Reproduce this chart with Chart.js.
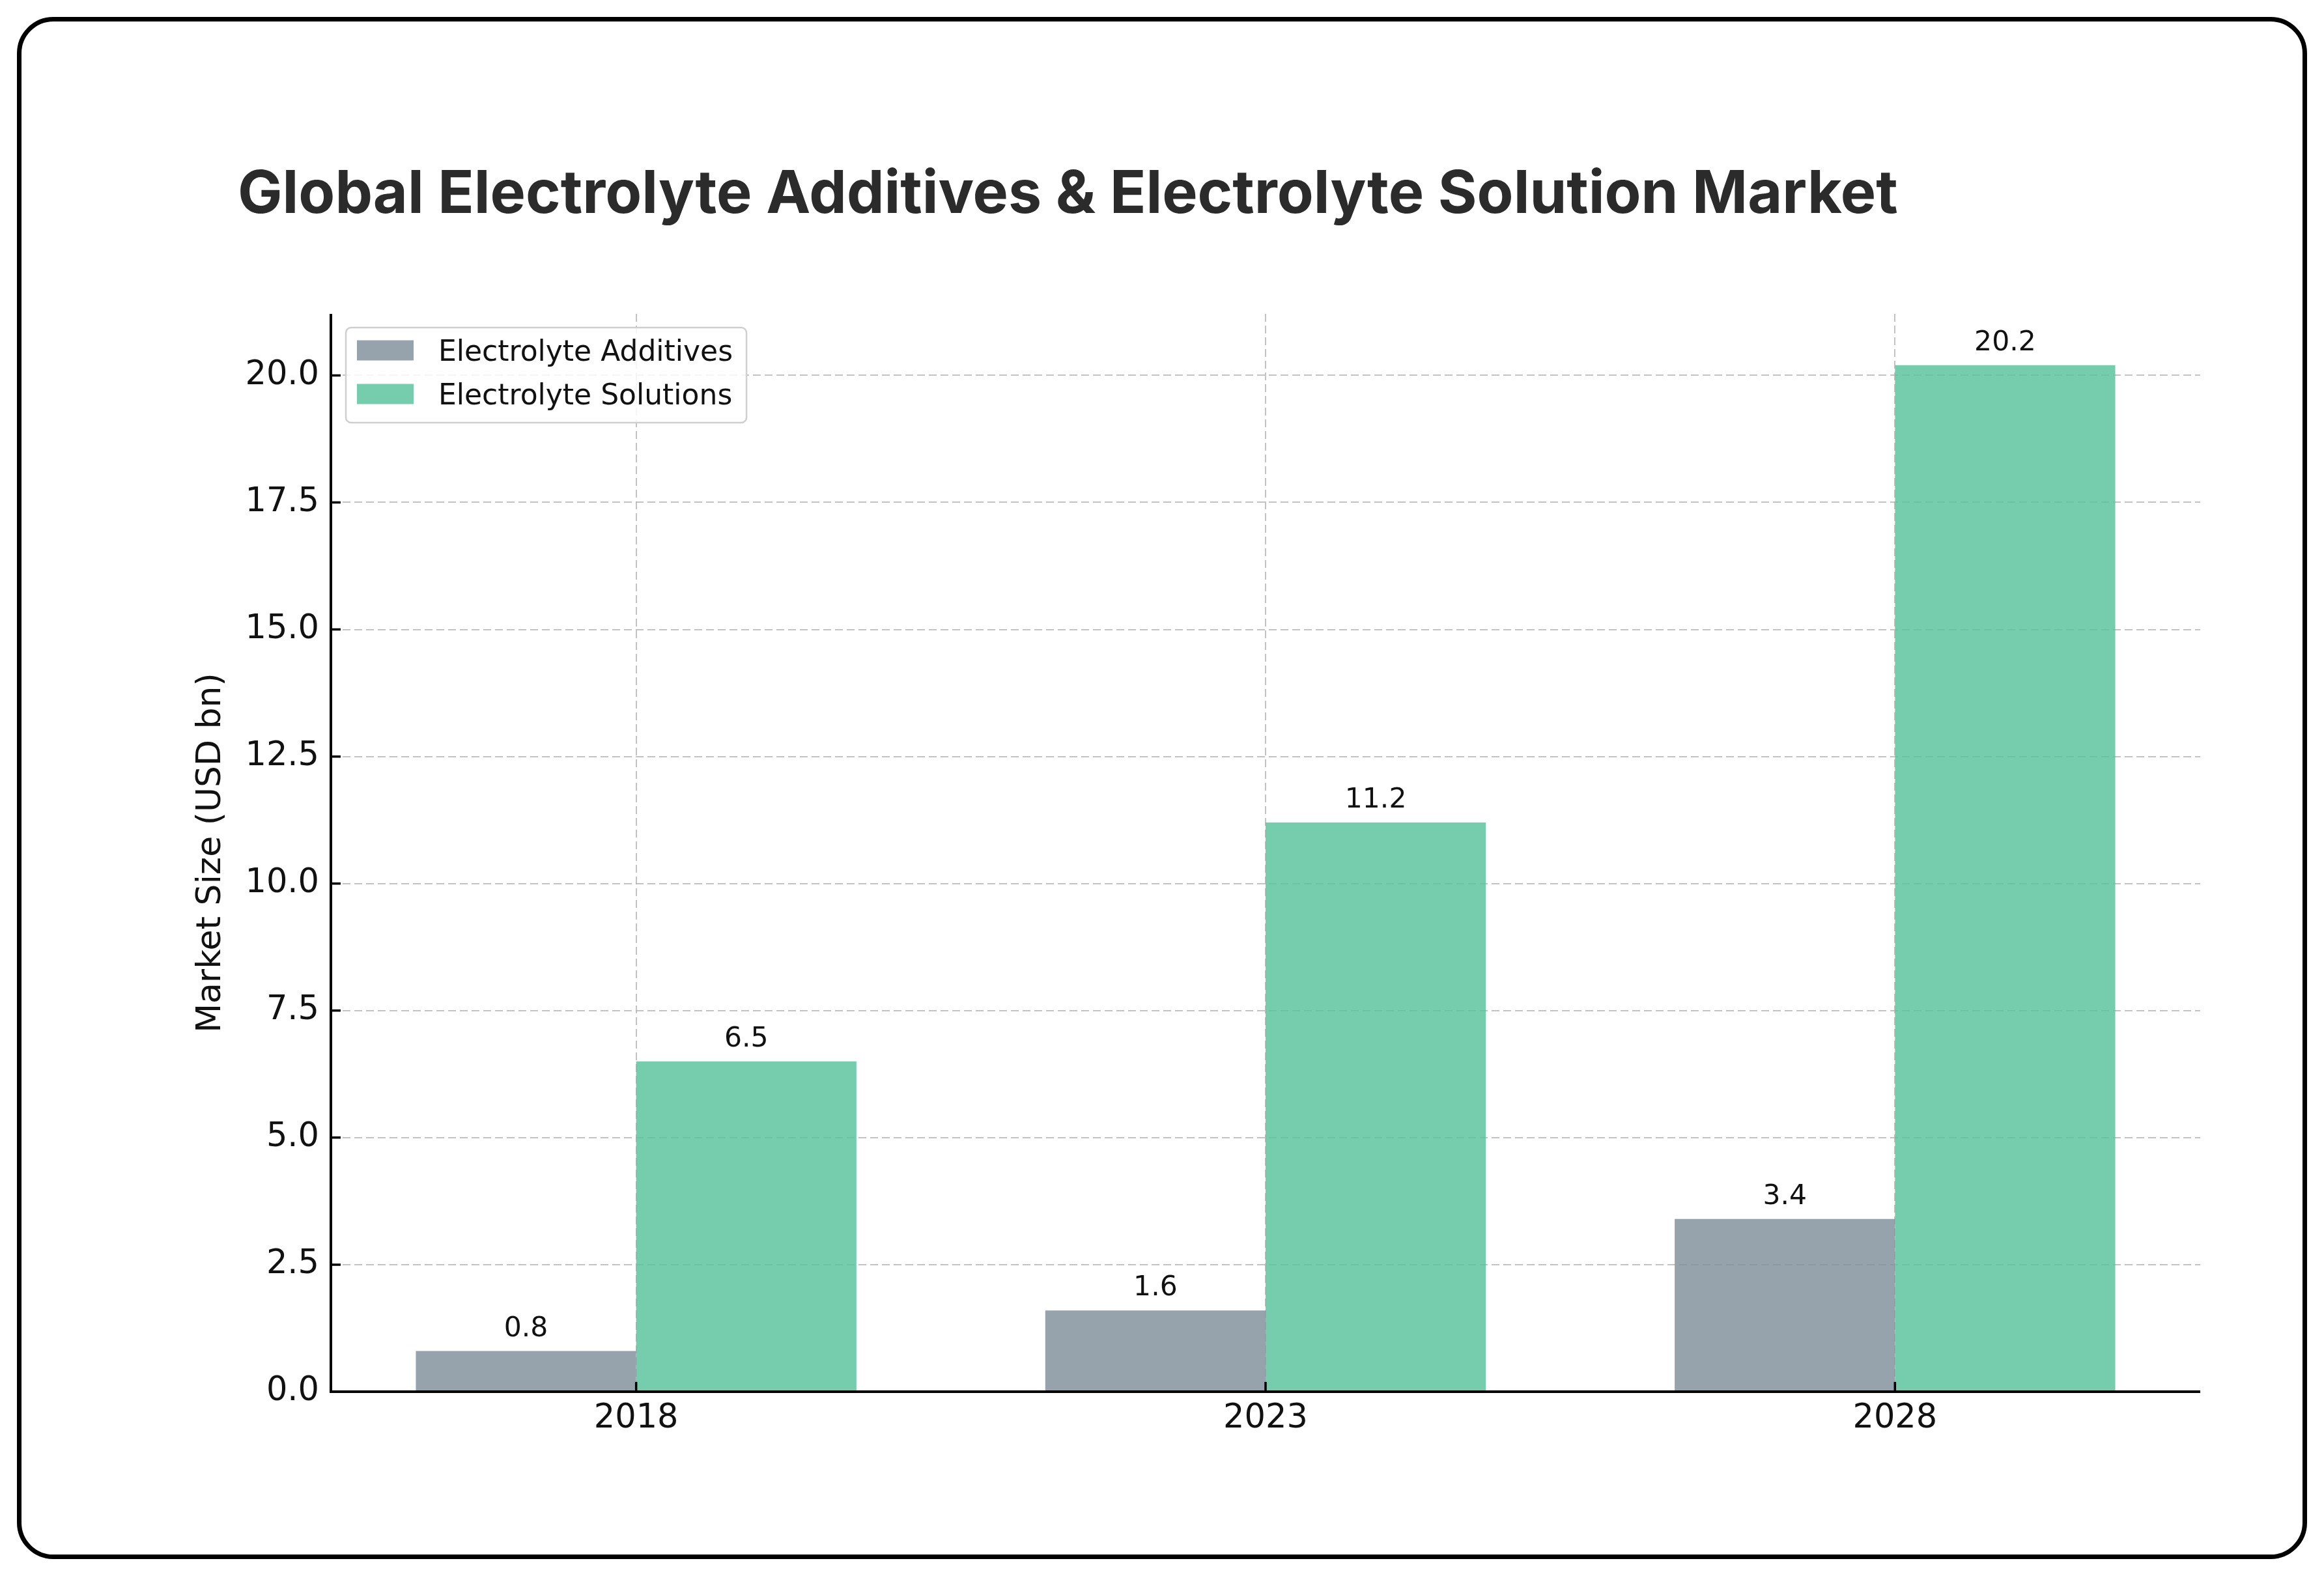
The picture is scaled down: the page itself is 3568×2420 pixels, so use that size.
<!DOCTYPE html>
<html>
<head>
<meta charset="utf-8">
<title>Global Electrolyte Additives & Electrolyte Solution Market</title>
<script src="https://cdn.jsdelivr.net/npm/chart.js@4.4.1/dist/chart.umd.min.js"></script>
<style>
  html, body { margin: 0; padding: 0; background: #fff; }
  body { width: 3568px; height: 2420px; position: relative; overflow: hidden; }
  #frame { position: absolute; left: 26px; top: 26px; right: 26px; bottom: 26px; border: 7px solid #000; border-radius: 56px; }
  #chart { position: absolute; left: 0; top: 0; }
</style>
</head>
<body>
<div id="frame"></div>
<canvas id="chart" width="3568" height="2420"></canvas>
<script>
// data
const chartTitle = 'Global Electrolyte Additives & Electrolyte Solution Market';
const years = ['2018', '2023', '2028'];
const seriesNames = ['Electrolyte Additives', 'Electrolyte Solutions'];
const additives = [0.8, 1.6, 3.4];
const solutions = [6.5, 11.2, 20.2];
const yTicks = [0, 2.5, 5, 7.5, 10, 12.5, 15, 17.5, 20];

const grayBar = 'rgba(133, 147, 157, 0.85)';
const greenBar = 'rgba(94, 196, 160, 0.85)';
const gridColor = 'rgba(175, 175, 175, 0.75)';
const tickFont = { family: 'DejaVu Sans', size: 51 };

// title, inward ticks, spines, value labels, legend box
const decorations = {
    id: 'decorations',
    beforeDraw(chart) {
        const ctx = chart.ctx;
        ctx.save();
        ctx.font = '700 100px Inter';
        const w100 = ctx.measureText(chartTitle).width;
        const size = 100 * 2549 / w100;
        ctx.font = `700 ${size}px Inter`;
        ctx.fillStyle = '#2b2b2b';
        ctx.textAlign = 'left';
        ctx.textBaseline = 'alphabetic';
        ctx.fillText(chartTitle, 365, 327);
        ctx.restore();
    },
    afterDatasetsDraw(chart) {
        const { ctx, chartArea: a, scales: { x, y } } = chart;
        ctx.save();

        // spines + inward ticks
        ctx.strokeStyle = '#000';
        ctx.lineWidth = 4;
        ctx.beginPath();
        ctx.moveTo(a.left, a.top);
        ctx.lineTo(a.left, a.bottom);
        ctx.lineTo(a.right, a.bottom);
        ctx.stroke();
        ctx.lineWidth = 3.5;
        ctx.beginPath();
        y.ticks.forEach(t => {
            const py = y.getPixelForValue(t.value);
            ctx.moveTo(a.left, py);
            ctx.lineTo(a.left + 15, py);
        });
        x.ticks.forEach(t => {
            const px = x.getPixelForValue(t.value);
            ctx.moveTo(px, a.bottom);
            ctx.lineTo(px, a.bottom - 15);
        });
        ctx.stroke();

        // value labels above bars
        ctx.font = '42.5px "DejaVu Sans"';
        ctx.fillStyle = '#111';
        ctx.textAlign = 'center';
        ctx.textBaseline = 'alphabetic';
        chart.data.datasets.forEach((ds, di) => {
            chart.getDatasetMeta(di).data.forEach((bar, i) => {
                ctx.fillText(ds.data[i].y.toFixed(1), bar.x, bar.y - 23);
            });
        });

        // legend
        ctx.font = '44px "DejaVu Sans"';
        const bx = a.left + 23, by = a.top + 21;
        let textW = 0;
        chart.data.datasets.forEach(ds => { textW = Math.max(textW, ctx.measureText(ds.label).width); });
        const bw = 17 + 87 + 38 + textW + 21, bh = 146;
        ctx.beginPath();
        ctx.roundRect(bx, by, bw, bh, 8);
        ctx.fillStyle = 'rgba(255,255,255,0.85)';
        ctx.fill();
        ctx.strokeStyle = '#cfcfcf';
        ctx.lineWidth = 2.5;
        ctx.stroke();
        ctx.textAlign = 'left';
        chart.data.datasets.forEach((ds, di) => {
            const cy = by + 35 + di * 67;
            ctx.fillStyle = ds.backgroundColor;
            ctx.fillRect(bx + 17, cy - 15.5, 87, 31);
            ctx.fillStyle = '#111';
            ctx.fillText(ds.label, bx + 17 + 87 + 38, cy + 16);
        });
        ctx.restore();
    }
};

function build() {
    new Chart(document.getElementById('chart'), {
        type: 'bar',
        data: {
            datasets: [{
                label: seriesNames[0],
                data: additives.map((v, i) => ({ x: i, y: v })),
                backgroundColor: grayBar,
                borderWidth: 0,
                categoryPercentage: 0.7,
                barPercentage: 1.0
            }, {
                label: seriesNames[1],
                data: solutions.map((v, i) => ({ x: i, y: v })),
                backgroundColor: greenBar,
                borderWidth: 0,
                categoryPercentage: 0.7,
                barPercentage: 1.0
            }]
        },
        options: {
            responsive: false,
            maintainAspectRatio: false,
            devicePixelRatio: 1,
            animation: false,
            layout: { padding: { left: 293, right: 190, top: 482, bottom: 163 } },
            plugins: {
                legend: { display: false },
                title: { display: false },
                tooltip: { enabled: false }
            },
            scales: {
                x: {
                    type: 'linear',
                    min: -0.485,
                    max: 2.485,
                    offset: false,
                    afterBuildTicks: s => { s.ticks = years.map((_, i) => ({ value: i })); },
                    afterFit: s => { s.height = 120; },
                    border: { display: false, dash: [12, 6] },
                    grid: { color: gridColor, lineWidth: 2, drawTicks: false, offset: false },
                    ticks: {
                        padding: 11,
                        color: '#111',
                        font: tickFont,
                        autoSkip: false,
                        maxRotation: 0,
                        callback: v => years[v]
                    }
                },
                y: {
                    min: 0,
                    max: 21.21,
                    afterBuildTicks: s => { s.ticks = yTicks.map(v => ({ value: v })); },
                    afterFit: s => { s.width = 508 - 293; },
                    border: { display: false, dash: [12, 6] },
                    grid: { color: gridColor, lineWidth: 2, drawTicks: false },
                    ticks: {
                        padding: 18,
                        color: '#111',
                        font: tickFont,
                        callback: v => v.toFixed(1)
                    },
                    title: {
                        display: true,
                        text: 'Market Size (USD bn)',
                        color: '#111',
                        font: { family: 'DejaVu Sans', size: 52 },
                        padding: 0
                    }
                }
            }
        },
        plugins: [decorations]
    });
}

Promise.all([
    document.fonts.load('700 80px Inter'),
    document.fonts.load('51px "DejaVu Sans"')
]).then(build, build);
</script>
</body>
</html>
